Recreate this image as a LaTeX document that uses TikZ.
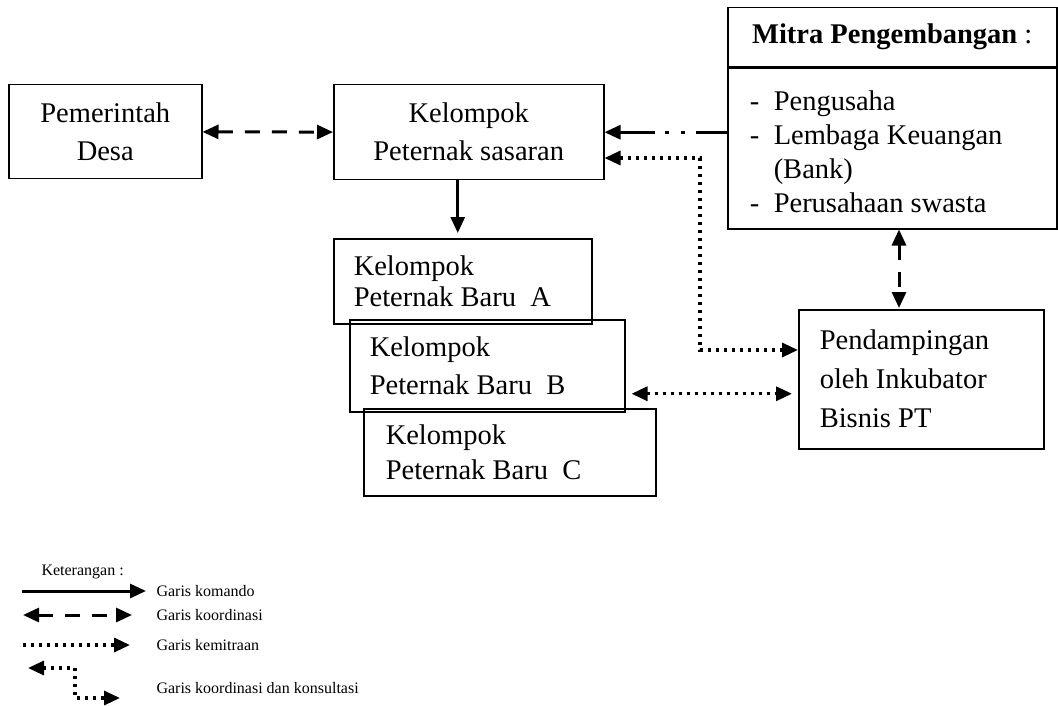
\documentclass[tikz,border=0pt]{standalone}
\usepackage{fontspec}
\setmainfont{Liberation Serif}
\usetikzlibrary{arrows.meta}

\begin{document}
\begin{tikzpicture}[x=1pt,y=-1pt,
    >={Triangle[length=16pt,width=14pt]},
    kotak/.style={draw,line width=1.5pt,inner sep=0pt,anchor=north west,
      font=\fontsize{28.5pt}{38pt}\selectfont},
    komando/.style={->,line width=3pt},
    koordinasi/.style={<->,line width=3pt,dash pattern=on 15pt off 12pt},
    kemitraan/.style={->,line width=3.2pt,dash pattern=on 3.2pt off 4.8pt},
    ket/.style={anchor=west,font=\fontsize{16pt}{19pt}\selectfont}]
        \useasboundingbox (0,0) rectangle (1058,706);
        \node[kotak,minimum width=193pt,minimum height=94pt,align=center] (pemerintah) at (8,84) {Pemerintah\\Desa};
        \node[kotak,minimum width=270pt,minimum height=95pt,align=center] (sasaran) at (333,84) {Kelompok\\Peternak sasaran};
        \node[kotak,minimum width=329pt,minimum height=59pt,align=center] (mitrahead) at (727,7) {\textbf{Mitra Pengembangan} :};
        \node[kotak,minimum width=329pt,minimum height=162pt,inner xsep=22pt,text width=285pt,align=flush left,
          font=\fontsize{28.5pt}{34pt}\selectfont] (mitra) at (727,66)
          {\rule{0pt}{27pt}\makebox[24pt][l]{-}Pengusaha\\
           \makebox[24pt][l]{-}Lembaga Keuangan\\
           \hspace*{24pt}(Bank)\\
           \makebox[24pt][l]{-}Perusahaan swasta};
        \draw[line width=3pt] (mitrahead.south west) -- (mitrahead.south east);
        \node[kotak,minimum width=258pt,minimum height=85pt,inner xsep=20pt,text width=218pt,align=flush left,
          font=\fontsize{28.5pt}{31pt}\selectfont] (baruA) at (333,238) {Kelompok\\Peternak Baru~ A};
        \node[kotak,minimum width=275pt,minimum height=92pt,inner xsep=20pt,text width=235pt,align=flush left] (baruB) at (349,319) {Kelompok\\Peternak Baru~ B};
        \node[kotak,minimum width=292pt,minimum height=87pt,inner xsep=22pt,text width=248pt,align=flush left,
          font=\fontsize{28.5pt}{35pt}\selectfont] (baruC) at (363,408) {Kelompok\\Peternak Baru~ C};
        \node[kotak,minimum width=245pt,minimum height=139pt,inner xsep=21pt,text width=203pt,align=flush left,
          font=\fontsize{28.5pt}{39pt}\selectfont] (pend) at (798,309) {Pendampingan\\oleh Inkubator\\Bisnis PT};
        \coordinate (bend1) at (700,158);
        \coordinate (bend2) at (700,350);
        \coordinate (mp) at (899,0);
        \draw[koordinasi] (pemerintah) -- (sasaran);
        \draw[line width=3pt,->,dash pattern=on 31pt off 11pt on 4pt off 12pt on 4pt off 10pt on 60pt] (sasaran.east -| mitra.west) -- (sasaran.east);
        \draw[kemitraan,<->] (bend1 -| sasaran.east) -- (bend1) -- (bend2) -- (bend2 -| pend.west);
        \draw[kemitraan,<->,shorten <=6pt,shorten >=6pt] ([yshift=-28pt]baruB.east) -- ([yshift=-28pt]baruB.east -| pend.west);
        \draw[komando,shorten >=5pt] ([xshift=-11pt]sasaran.south) -- ([xshift=-11pt]sasaran.south |- baruA.north);
        \draw[koordinasi,shorten >=1pt] (mitra.south -| mp) -- (pend.north -| mp);
        % keterangan
        \node[ket] (keterangan) at (38,572) {Keterangan :};
        \coordinate (k1a) at (22,591);
        \coordinate (k1b) at (146,591);
        \coordinate (k2a) at (23,615);
        \coordinate (k2b) at (132,615);
        \coordinate (k3a) at (23,645);
        \coordinate (k3b) at (130,645);
        \coordinate (k4a) at (28,668);
        \coordinate (k4b) at (120,698);
        \coordinate (k4c) at (75,0);
        \draw[komando] (k1a) -- (k1b);
        \draw[koordinasi] (k2a) -- (k2b);
        \draw[kemitraan] (k3a) -- (k3b);
        \draw[kemitraan,<->] (k4a) -- (k4a -| k4c) |- (k4b);
        \node[ket] (tkomando) at (153,591) {Garis komando};
        \node[ket] (tkoordinasi) at (153,615) {Garis koordinasi};
        \node[ket] (tkemitraan) at (153,645) {Garis kemitraan};
        \node[ket] (tkonsultasi) at (153,688) {Garis koordinasi dan konsultasi};
    \end{tikzpicture}
\end{document}
